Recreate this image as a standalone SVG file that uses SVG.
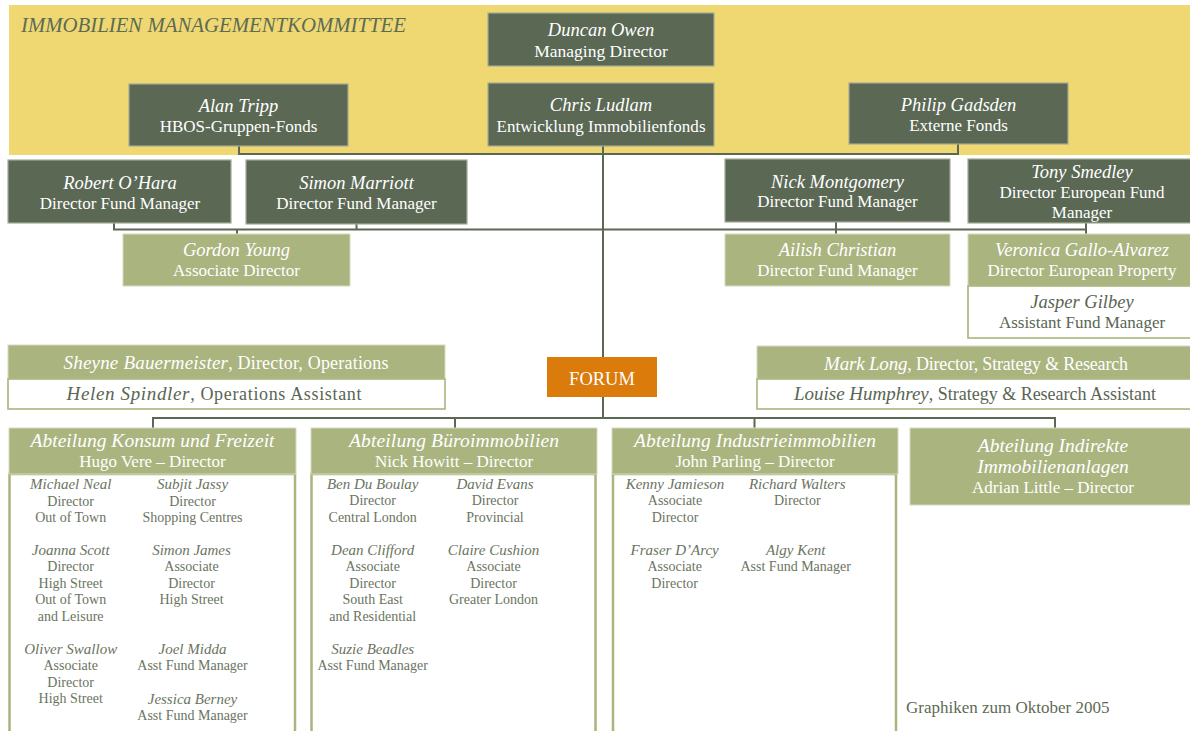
<svg xmlns="http://www.w3.org/2000/svg" width="1190" height="731" viewBox="0 0 1190 731">
<style>
text{font-family:"Liberation Serif","Times New Roman",serif;text-anchor:middle}
.i{font-style:italic}
.w{fill:#ffffff}
.dkt{fill:#5a6553}
.b{font-size:17px}
.bi{font-size:18.5px;font-style:italic}
.r{font-size:18px}
.ri{font-size:19px;font-style:italic}
.h{font-size:17px}
.hi{font-size:19.5px;font-style:italic}
.s{font-size:14px;fill:#6a7461}
.si{font-size:15px;font-style:italic}
.dark{fill:#5a6854;stroke:#a3ab97;stroke-width:1.2}
.light{fill:#aab47f;stroke:#d4dac0;stroke-width:1}
.wbox{fill:#ffffff;stroke:#aab47f;stroke-width:1.6}
.body{fill:none;stroke:#aab47f;stroke-width:2.5}
.conn{fill:none;stroke:#5a6854;stroke-width:2}
</style>
<rect x="0" y="0" width="1190" height="731" fill="#ffffff"/>
<g id="committee">
<rect x="9" y="5" width="1181" height="150" fill="#efd872"/>
<text x="21" y="31.5" style="text-anchor:start;font-size:20.5px;font-style:italic;fill:#5d6b55" textLength="385" lengthAdjust="spacingAndGlyphs">IMMOBILIEN MANAGEMENTKOMMITTEE</text>
</g>
<g id="connectors">
<path class="conn" d="M603,146 V357 M603,397 V418"/>
<path class="conn" d="M239,146 V154 H958 V144"/>
<path class="conn" d="M114,223 V229.5 H1086 V223 M237,229.5 V234 M356.5,224 V229.5 M836,222 V234 M1086,229.5 V234"/>
<path class="conn" d="M153,428 V418 H1055 V428 M455,418 V428 M754.5,418 V428"/>
</g>
<g id="duncan">
<rect class="dark" x="488" y="13" width="226" height="53"/>
<text class="w bi" x="601" y="35.5">Duncan Owen</text>
<text class="w b" x="601" y="57" style="font-size:17.5px">Managing Director</text>
</g>
<g id="alan">
<rect class="dark" x="129" y="84" width="219" height="62"/>
<text class="w bi" x="238.5" y="112">Alan Tripp</text>
<text class="w b" x="238.5" y="132">HBOS-Gruppen-Fonds</text>
</g>
<g id="chris">
<rect class="dark" x="488" y="83" width="226" height="63"/>
<text class="w bi" x="601" y="111">Chris Ludlam</text>
<text class="w b" x="601" y="132" textLength="209">Entwicklung Immobilienfonds</text>
</g>
<g id="philip">
<rect class="dark" x="849" y="83" width="219" height="61"/>
<text class="w bi" x="958.5" y="110.5">Philip Gadsden</text>
<text class="w b" x="958.5" y="131">Externe Fonds</text>
</g>
<g id="robert">
<rect class="dark" x="8" y="160" width="223" height="63"/>
<text class="w bi" x="120" y="188.5">Robert O’Hara</text>
<text class="w b" x="120" y="209">Director Fund Manager</text>
</g>
<g id="simon-marriott">
<rect class="dark" x="246" y="160" width="221" height="64"/>
<text class="w bi" x="356.5" y="188.5">Simon Marriott</text>
<text class="w b" x="356.5" y="209">Director Fund Manager</text>
</g>
<g id="nick-montgomery">
<rect class="dark" x="725" y="159" width="225" height="63"/>
<text class="w bi" x="837.5" y="187.5">Nick Montgomery</text>
<text class="w b" x="837.5" y="207">Director Fund Manager</text>
</g>
<g id="tony">
<rect class="dark" x="968" y="159" width="230" height="64"/>
<text class="w bi" x="1082" y="178">Tony Smedley</text>
<text class="w b" x="1082" y="197.5">Director European Fund</text>
<text class="w b" x="1082" y="218">Manager</text>
</g>
<g id="gordon">
<rect class="light" x="123" y="234" width="227" height="52"/>
<text class="w bi" x="236.5" y="256">Gordon Young</text>
<text class="w b" x="236.5" y="276">Associate Director</text>
</g>
<g id="ailish">
<rect class="light" x="725" y="234" width="225" height="52"/>
<text class="w bi" x="837.5" y="256">Ailish Christian</text>
<text class="w b" x="837.5" y="276">Director Fund Manager</text>
</g>
<g id="veronica">
<rect class="light" x="968" y="234" width="230" height="52"/>
<text class="w bi" x="1082" y="256">Veronica Gallo-Alvarez</text>
<text class="w b" x="1082" y="276">Director European Property</text>
</g>
<g id="jasper">
<rect class="wbox" x="968" y="286" width="230" height="52"/>
<text class="dkt bi" x="1082" y="308">Jasper Gilbey</text>
<text class="dkt b" x="1082" y="328">Assistant Fund Manager</text>
</g>
<g id="sheyne">
<rect class="light" x="8" y="345" width="437" height="34"/>
<text class="w r" x="226" y="368.5" textLength="325"><tspan class="ri">Sheyne Bauermeister</tspan>, Director, Operations</text>
</g>
<g id="helen">
<rect class="wbox" x="8" y="379" width="437" height="30"/>
<text class="dkt r" x="214" y="399.5" textLength="295"><tspan class="ri">Helen Spindler</tspan>, Operations Assistant</text>
</g>
<g id="mark">
<rect class="light" x="757" y="346" width="440" height="33"/>
<text class="w r" x="976" y="369.5" textLength="304"><tspan class="ri">Mark Long</tspan>, Director, Strategy &amp; Research</text>
</g>
<g id="louise">
<rect class="wbox" x="757" y="379" width="440" height="30"/>
<text class="dkt r" x="975" y="400" textLength="362"><tspan class="ri">Louise Humphrey</tspan>, Strategy &amp; Research Assistant</text>
</g>
<g id="forum">
<rect x="547" y="357" width="110" height="40" fill="#da7b0c"/>
<text class="w" x="602" y="385" style="font-size:18.5px">FORUM</text>
</g>
<g id="dept-konsum">
<rect class="body" x="9.5" y="474" width="285.5" height="280"/>
<rect class="light" x="9" y="428" width="287" height="46"/>
<text class="w hi" x="152.5" y="447" textLength="244">Abteilung Konsum und Freizeit</text>
<text class="w h" x="152.5" y="467">Hugo Vere – Director</text>
</g>
<g id="dept-buero">
<rect class="body" x="311.5" y="474" width="284" height="280"/>
<rect class="light" x="311" y="428" width="286" height="46"/>
<text class="w hi" x="454" y="447" textLength="210">Abteilung Büroimmobilien</text>
<text class="w h" x="454" y="467">Nick Howitt – Director</text>
</g>
<g id="dept-industrie">
<rect class="body" x="613" y="474" width="283" height="280"/>
<rect class="light" x="612" y="428" width="286" height="46"/>
<text class="w hi" x="755" y="447" textLength="242">Abteilung Industrieimmobilien</text>
<text class="w h" x="755" y="467">John Parling – Director</text>
</g>
<g id="dept-indirekte">
<rect class="light" x="910" y="428" width="285" height="77"/>
<text class="w hi" x="1053" y="452">Abteilung Indirekte</text>
<text class="w hi" x="1053" y="473">Immobilienanlagen</text>
<text class="w h" x="1053" y="493">Adrian Little – Director</text>
</g>
<g id="michael-neal"><text class="s" x="70.7" y="489"><tspan class="si">Michael Neal</tspan><tspan x="70.7" dy="16.5">Director</tspan><tspan x="70.7" dy="16.5">Out of Town</tspan></text></g>
<g id="joanna-scott"><text class="s" x="70.7" y="554.5"><tspan class="si">Joanna Scott</tspan><tspan x="70.7" dy="16.5">Director</tspan><tspan x="70.7" dy="16.5">High Street</tspan><tspan x="70.7" dy="16.5">Out of Town</tspan><tspan x="70.7" dy="16.5">and Leisure</tspan></text></g>
<g id="oliver-swallow"><text class="s" x="70.7" y="653.5"><tspan class="si">Oliver Swallow</tspan><tspan x="70.7" dy="16.5">Associate</tspan><tspan x="70.7" dy="16.5">Director</tspan><tspan x="70.7" dy="16.5">High Street</tspan></text></g>
<g id="subjit-jassy"><text class="s" x="192.5" y="489"><tspan class="si">Subjit Jassy</tspan><tspan x="192.5" dy="16.5">Director</tspan><tspan x="192.5" dy="16.5">Shopping Centres</tspan></text></g>
<g id="simon-james"><text class="s" x="191.5" y="554.5"><tspan class="si">Simon James</tspan><tspan x="191.5" dy="16.5">Associate</tspan><tspan x="191.5" dy="16.5">Director</tspan><tspan x="191.5" dy="16.5">High Street</tspan></text></g>
<g id="joel-midda"><text class="s" x="192.5" y="653.5"><tspan class="si">Joel Midda</tspan><tspan x="192.5" dy="16.5">Asst Fund Manager</tspan></text></g>
<g id="jessica-berney"><text class="s" x="192.5" y="703.5"><tspan class="si">Jessica Berney</tspan><tspan x="192.5" dy="16.5">Asst Fund Manager</tspan></text></g>
<g id="ben-du-boulay"><text class="s" x="372.7" y="488.5"><tspan class="si">Ben Du Boulay</tspan><tspan x="372.7" dy="16.5">Director</tspan><tspan x="372.7" dy="16.5">Central London</tspan></text></g>
<g id="dean-clifford"><text class="s" x="372.7" y="554.5"><tspan class="si">Dean Clifford</tspan><tspan x="372.7" dy="16.5">Associate</tspan><tspan x="372.7" dy="16.5">Director</tspan><tspan x="372.7" dy="16.5">South East</tspan><tspan x="372.7" dy="16.5">and Residential</tspan></text></g>
<g id="suzie-beadles"><text class="s" x="372.7" y="653.5"><tspan class="si">Suzie Beadles</tspan><tspan x="372.7" dy="16.5">Asst Fund Manager</tspan></text></g>
<g id="david-evans"><text class="s" x="495" y="488.5"><tspan class="si">David Evans</tspan><tspan x="495" dy="16.5">Director</tspan><tspan x="495" dy="16.5">Provincial</tspan></text></g>
<g id="claire-cushion"><text class="s" x="493.5" y="554.5"><tspan class="si">Claire Cushion</tspan><tspan x="493.5" dy="16.5">Associate</tspan><tspan x="493.5" dy="16.5">Director</tspan><tspan x="493.5" dy="16.5">Greater London</tspan></text></g>
<g id="kenny-jamieson"><text class="s" x="675" y="488.5"><tspan class="si">Kenny Jamieson</tspan><tspan x="675" dy="16.5">Associate</tspan><tspan x="675" dy="16.5">Director</tspan></text></g>
<g id="fraser-darcy"><text class="s" x="674.7" y="554.5"><tspan class="si">Fraser D’Arcy</tspan><tspan x="674.7" dy="16.5">Associate</tspan><tspan x="674.7" dy="16.5">Director</tspan></text></g>
<g id="richard-walters"><text class="s" x="797.3" y="488.5"><tspan class="si">Richard Walters</tspan><tspan x="797.3" dy="16.5">Director</tspan></text></g>
<g id="algy-kent"><text class="s" x="795.7" y="554.5"><tspan class="si">Algy Kent</tspan><tspan x="795.7" dy="16.5">Asst Fund Manager</tspan></text></g>
<g id="footer">
<text x="906" y="713" style="text-anchor:start;font-size:17px;fill:#5d6b55">Graphiken zum Oktober 2005</text>
</g>
</svg>
